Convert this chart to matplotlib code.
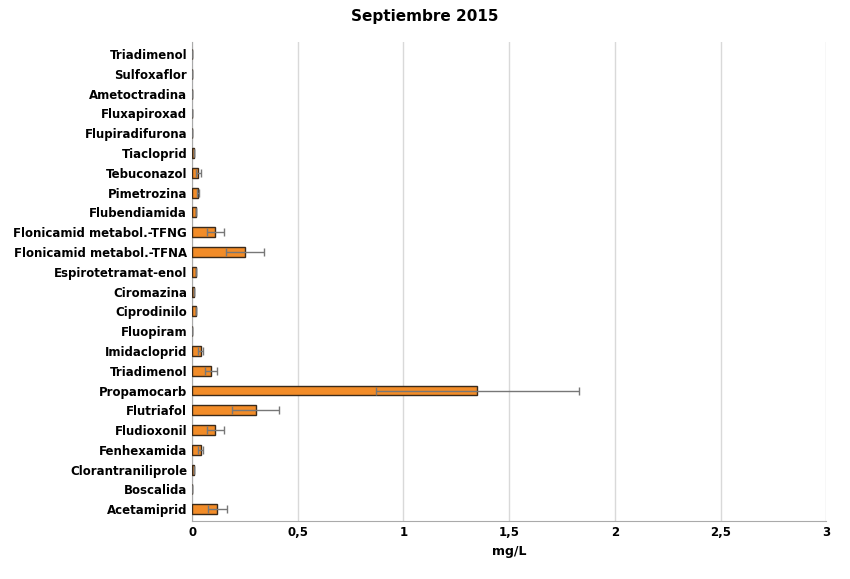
import numpy as np
import matplotlib.pyplot as plt

compounds = ['Triadimenol', 'Sulfoxaflor', 'Ametoctradina', 'Fluxapiroxad', 'Flupiradifurona',
             'Tiacloprid', 'Tebuconazol', 'Pimetrozina', 'Flubendiamida',
             'Flonicamid metabol.-TFNG', 'Flonicamid metabol.-TFNA', 'Espirotetramat-enol',
             'Ciromazina', 'Ciprodinilo', 'Fluopiram', 'Imidacloprid', 'Triadimenol',
             'Propamocarb', 'Flutriafol', 'Fludioxonil', 'Fenhexamida',
             'Clorantraniliprole', 'Boscalida', 'Acetamiprid']
means = [0, 0, 0, 0, 0, 0.01, 0.03, 0.03, 0.02, 0.11, 0.25, 0.02, 0.01, 0.02, 0,
         0.04, 0.09, 1.35, 0.30, 0.11, 0.04, 0.01, 0, 0.12]
errors = [0, 0, 0, 0, 0, 0, 0.01, 0.005, 0, 0.04, 0.09, 0, 0, 0, 0,
          0.01, 0.03, 0.48, 0.11, 0.04, 0.01, 0, 0, 0.045]

fig = plt.figure(figsize=(8.5, 5.79), dpi=100)
ax = fig.add_axes([0.226, 0.10, 0.746, 0.827])
y = np.arange(len(compounds))[::-1]
ax.barh(y, means, height=0.5, color='#F28C28', edgecolor='#3a2a1a', linewidth=1,
        xerr=errors, error_kw=dict(ecolor='#777777', capsize=3, elinewidth=1), zorder=3)
ax.set_yticks(y)
ax.set_yticklabels(compounds, fontsize=8.5, fontweight='bold')
ax.set_ylim(-0.6, len(compounds) - 0.4)
ax.set_xlim(0, 3)
ax.set_xticks([0, 0.5, 1, 1.5, 2, 2.5, 3])
ax.set_xticklabels(['0', '0,5', '1', '1,5', '2', '2,5', '3'], fontsize=8.5, fontweight='bold')
ax.set_xlabel('mg/L', fontsize=9, fontweight='bold')
ax.xaxis.grid(True, color='#d9d9d9', linewidth=1, zorder=0)
ax.tick_params(length=0)
for s in ['top', 'right']:
    ax.spines[s].set_visible(False)
for s in ['left', 'bottom']:
    ax.spines[s].set_color('#aaaaaa')
fig.suptitle('Septiembre 2015', fontsize=11, fontweight='bold', y=0.985)
fig.savefig('out.png')
